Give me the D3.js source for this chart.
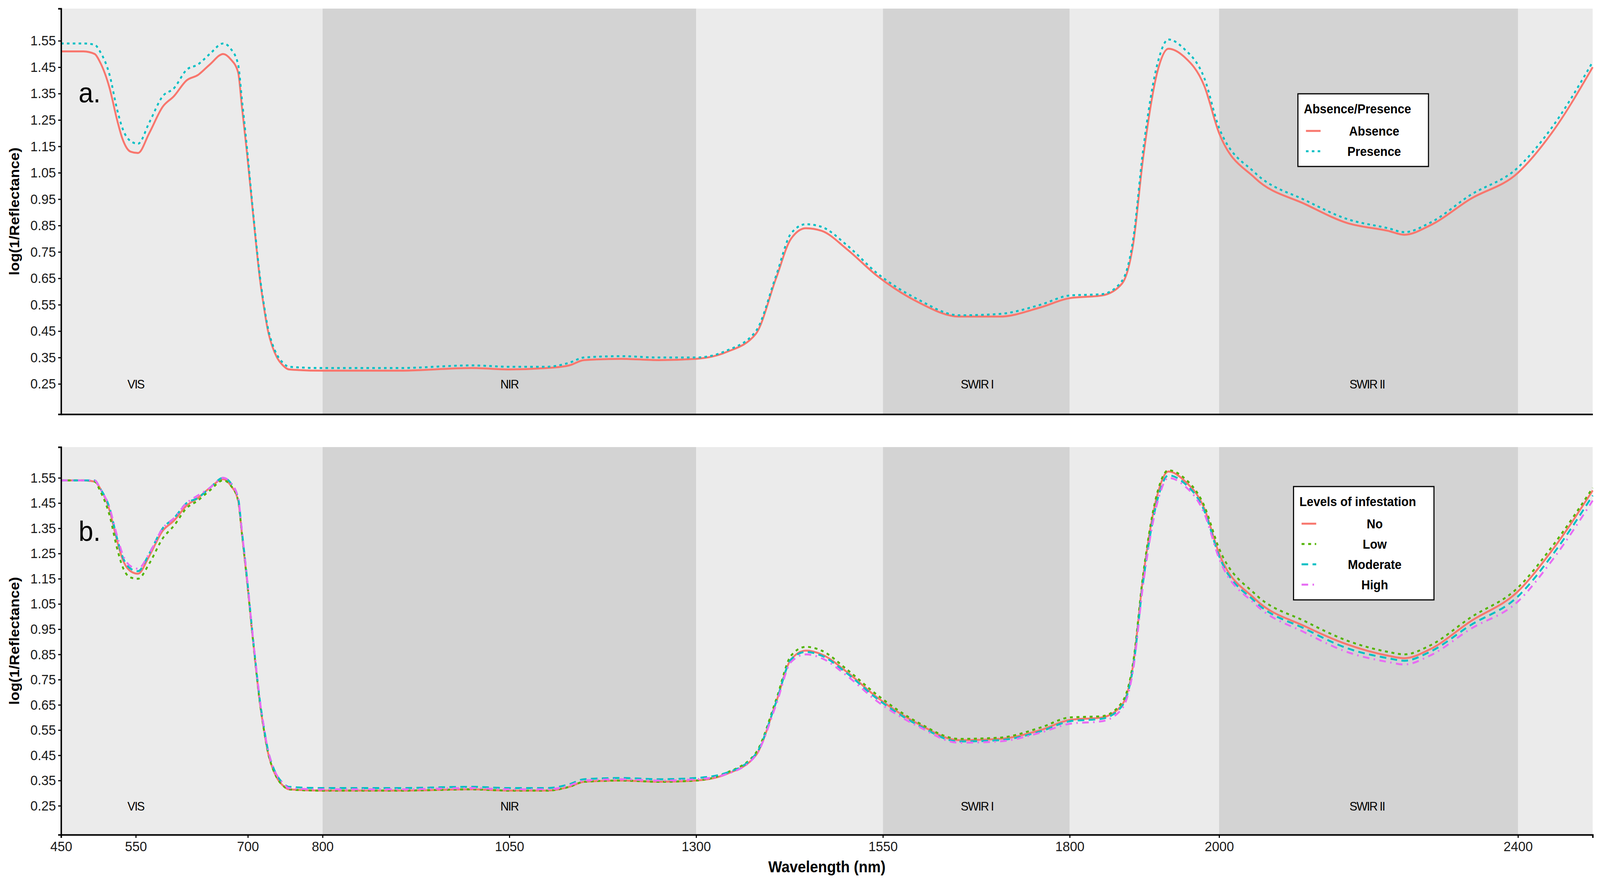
<!DOCTYPE html>
<html>
<head>
<meta charset="utf-8">
<script src="https://d3js.org/d3.v7.min.js"></script>
<style>
  html, body { margin: 0; padding: 0; background: #fff; overflow: hidden; }
  svg { display: block; width: 100vw; height: 100vh; }
  text { font-family: "Liberation Sans", Arial, sans-serif; }
</style>
</head>
<body>
<script>
// shared wavelength grid (nm)
var wavelengths = [450,480,495,502,515,525,532,543,553,568,586,601,618,633,649,667,677,687,692,699,
  705,711,716,721,727,733,739,747,755,800,900,1000,1050,1100,1130,1150,1200,1250,1300,1340,
  1380,1407,1427,1447,1468,1502,1542,1597,1652,1706,1761,1800,1843,1870,1885,1898,1919,1932,1953,1980,
  2000,2048,2116,2171,2226,2248,2282,2336,2400,2445,2500];

// panel a
var absence = [1.51,1.51,1.50,1.47,1.37,1.25,1.18,1.13,1.125,1.20,
  1.30,1.34,1.40,1.42,1.46,1.50,1.48,1.43,1.30,1.12,
  0.95,0.78,0.65,0.55,0.45,0.39,0.35,0.32,0.305,0.30,
  0.30,0.31,0.305,0.31,0.32,0.34,0.345,0.34,0.345,0.37,
  0.44,0.65,0.80,0.84,0.83,0.76,0.66,0.56,0.505,0.505,
  0.54,0.575,0.585,0.63,0.78,1.10,1.45,1.52,1.49,1.38,
  1.20,1.03,0.93,0.86,0.83,0.815,0.85,0.95,1.05,1.20,1.45];
var presence = [1.54,1.54,1.535,1.51,1.42,1.29,1.22,1.17,1.16,1.24,
  1.34,1.37,1.44,1.46,1.50,1.54,1.52,1.46,1.33,1.14,
  0.96,0.79,0.66,0.56,0.46,0.40,0.36,0.33,0.315,0.31,
  0.31,0.32,0.315,0.315,0.33,0.35,0.355,0.35,0.35,0.375,
  0.45,0.66,0.82,0.855,0.845,0.775,0.67,0.57,0.51,0.515,
  0.55,0.585,0.59,0.64,0.80,1.13,1.48,1.555,1.52,1.41,
  1.22,1.05,0.945,0.875,0.84,0.825,0.86,0.965,1.07,1.22,1.47];

// panel b
var levelNo = [1.54,1.54,1.535,1.51,1.42,1.30,1.23,1.18,1.17,1.24,
  1.34,1.38,1.44,1.47,1.51,1.545,1.52,1.46,1.33,1.14,
  0.96,0.79,0.66,0.56,0.46,0.40,0.36,0.33,0.315,0.31,
  0.31,0.315,0.31,0.31,0.325,0.345,0.35,0.345,0.35,0.375,
  0.45,0.66,0.83,0.865,0.85,0.78,0.68,0.575,0.51,0.515,
  0.55,0.59,0.60,0.65,0.81,1.15,1.50,1.575,1.54,1.43,
  1.25,1.07,0.96,0.89,0.845,0.835,0.87,0.98,1.10,1.26,1.50];
var levelLow = [1.54,1.54,1.535,1.50,1.40,1.27,1.20,1.155,1.15,1.21,
  1.31,1.36,1.43,1.46,1.50,1.54,1.52,1.46,1.33,1.14,
  0.96,0.79,0.66,0.56,0.46,0.40,0.36,0.33,0.315,0.31,
  0.31,0.315,0.31,0.31,0.325,0.345,0.35,0.345,0.35,0.38,
  0.46,0.67,0.845,0.88,0.865,0.79,0.69,0.58,0.515,0.52,
  0.56,0.60,0.605,0.66,0.82,1.16,1.51,1.58,1.55,1.44,
  1.27,1.09,0.98,0.905,0.86,0.85,0.885,0.995,1.115,1.275,1.51];
var levelModerate = [1.54,1.54,1.54,1.51,1.43,1.31,1.24,1.19,1.18,1.25,
  1.35,1.39,1.45,1.47,1.51,1.55,1.53,1.47,1.34,1.15,
  0.97,0.80,0.67,0.57,0.47,0.41,0.37,0.34,0.325,0.32,
  0.32,0.325,0.32,0.32,0.335,0.355,0.36,0.355,0.36,0.38,
  0.455,0.66,0.83,0.86,0.845,0.775,0.675,0.57,0.505,0.51,
  0.545,0.585,0.595,0.645,0.80,1.13,1.48,1.56,1.53,1.42,
  1.24,1.06,0.95,0.875,0.835,0.825,0.86,0.965,1.08,1.24,1.48];
var levelHigh = [1.54,1.54,1.54,1.51,1.43,1.32,1.25,1.20,1.19,1.25,
  1.35,1.39,1.45,1.48,1.51,1.55,1.53,1.47,1.34,1.15,
  0.97,0.80,0.67,0.57,0.47,0.41,0.37,0.34,0.32,0.315,
  0.315,0.32,0.315,0.315,0.33,0.35,0.355,0.35,0.355,0.375,
  0.45,0.65,0.82,0.85,0.835,0.765,0.665,0.565,0.50,0.505,
  0.54,0.575,0.585,0.635,0.79,1.12,1.47,1.55,1.52,1.41,
  1.23,1.05,0.935,0.86,0.82,0.81,0.845,0.95,1.06,1.22,1.46];

var xTicks = [450,550,700,800,1050,1300,1550,1800,2000,2400];
var yTicks = [0.25,0.35,0.45,0.55,0.65,0.75,0.85,0.95,1.05,1.15,1.25,1.35,1.45,1.55];
var bands = [[450,800,"#ebebeb"],[800,1300,"#d3d3d3"],[1300,1550,"#ebebeb"],[1550,1800,"#d3d3d3"],
             [1800,2000,"#ebebeb"],[2000,2400,"#d3d3d3"],[2400,2500,"#ebebeb"]];
var regionNames = ["VIS","NIR","SWIR I","SWIR II"];
var regionPos = [550,1050,1676,2198];

var W = 4375, H = 2262, left = 167, right = 4355;
var svg = d3.select("body").append("svg")
  .attr("viewBox", "0 0 " + W + " " + H)
  .attr("preserveAspectRatio", "none");

var x = d3.scaleLinear().domain([450,2500]).range([left,right]);

function panel(top, bottom, series, letter, legendTitle, legendBox, showX) {
  var y = d3.scaleLinear().domain([0.135,1.672]).range([bottom,top]);
  var g = svg.append("g");

  g.selectAll("rect.band").data(bands).enter().append("rect")
    .attr("x", function(d){ return x(d[0]); })
    .attr("width", function(d){ return x(d[1]) - x(d[0]); })
    .attr("y", top).attr("height", bottom - top)
    .attr("fill", function(d){ return d[2]; });

  g.selectAll("text.region").data(regionNames).enter().append("text")
    .attr("x", function(d,i){ return x(regionPos[i]); })
    .attr("y", y(0.25) + 12)
    .attr("text-anchor","middle")
    .attr("font-size", 32).attr("letter-spacing", -2)
    .text(function(d){ return d; });

  var line = d3.line().curve(d3.curveMonotoneX)
    .x(function(d,i){ return x(wavelengths[i]); })
    .y(function(d){ return y(d); });

  series.forEach(function(s){
    g.append("path").attr("d", line(s.values))
      .attr("fill","none").attr("stroke", s.color).attr("stroke-width", 5)
      .attr("stroke-dasharray", s.dash);
  });

  var ya = g.append("g").attr("transform","translate(" + left + ",0)")
    .call(d3.axisLeft(y).tickValues(yTicks).tickFormat(d3.format(".2f")).tickSize(8).tickPadding(6));
  ya.select(".domain").attr("stroke","#000").attr("stroke-width",4);
  ya.selectAll("text").attr("font-size", 36).attr("fill","#1a1a1a");
  ya.selectAll(".tick line").attr("stroke-width",3);

  var xa = g.append("g").attr("transform","translate(0," + bottom + ")")
    .call(d3.axisBottom(x).tickValues(xTicks).tickFormat(d3.format("d")).tickSize(showX ? 8 : 0).tickPadding(8));
  xa.select(".domain").attr("stroke","#000").attr("stroke-width",4);
  xa.selectAll(".tick line").attr("stroke-width",3);
  xa.selectAll("text").attr("font-size", 36).attr("fill","#1a1a1a");
  if (!showX) xa.selectAll("text").remove();

  g.append("text")
    .attr("transform","translate(52," + ((top+bottom)/2) + ") rotate(-90)")
    .attr("text-anchor","middle").attr("font-size",38).attr("font-weight","bold")
    .text("log(1/Reflectance)");

  g.append("text").attr("x",215).attr("y", top + 240)
    .attr("font-family","'DejaVu Serif', serif").attr("font-size",72)
    .text(letter);

  // legend
  var lg = g.append("g").attr("transform","translate(" + legendBox[0] + "," + legendBox[1] + ")");
  var rowH = 52;
  lg.append("rect").attr("width", legendBox[2]).attr("height", 82 + series.length*rowH)
    .attr("fill","#fff").attr("stroke","#000").attr("stroke-width",3);
  lg.append("text").attr("x",16).attr("y",50).attr("font-size",33).attr("font-weight","bold")
    .text(legendTitle);
  series.forEach(function(s,i){
    var cy = 95 + i*rowH;
    lg.append("line").attr("x1",22).attr("x2",62).attr("y1",cy).attr("y2",cy)
      .attr("stroke",s.color).attr("stroke-width",5).attr("stroke-dasharray", s.dash);
    lg.append("text").attr("x", (legendBox[2]+60)/2).attr("y", cy + 12)
      .attr("text-anchor","middle").attr("font-size",33).attr("font-weight","bold")
      .text(s.name);
  });
}

panel(22, 1060, [
  {name:"Absence", values:absence, color:"#f8766d", dash:null},
  {name:"Presence", values:presence, color:"#00bfc4", dash:"7,9"}
], "a.", "Absence/Presence", [3549,240,357], false);

panel(1144, 2136, [
  {name:"No", values:levelNo, color:"#f8766d", dash:null},
  {name:"Low", values:levelLow, color:"#53b400", dash:"8,10"},
  {name:"Moderate", values:levelModerate, color:"#00bfc4", dash:"18,12"},
  {name:"High", values:levelHigh, color:"#e76bf3", dash:"18,12,4,12"}
], "b.", "Levels of infestation", [3537,1245,384], true);

svg.append("text").attr("x", (left+right)/2).attr("y", 2232)
  .attr("text-anchor","middle").attr("font-size",40).attr("font-weight","bold")
  .text("Wavelength (nm)");
</script>
</body>
</html>
